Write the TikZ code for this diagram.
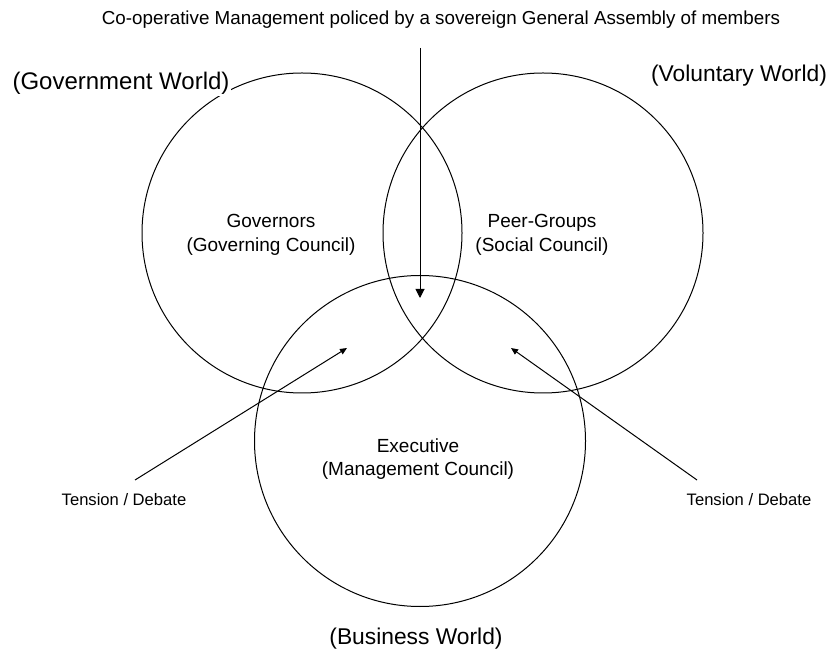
\documentclass[tikz,border=0pt]{standalone}
\usepackage{fontspec}
\setmainfont{Liberation Sans}
\usetikzlibrary{arrows.meta, positioning}
\tikzset{%
	world circle/.style={
		circle,
		draw,
		line width=0.5pt
	},
	world label/.style={
		fill=white,
		inner sep=1pt,
		font=\fontsize{11.4}{13.5}\selectfont
	},
	council label/.style={
		align=center,
		inner sep=0pt,
		font=\fontsize{9.5}{11.75}\selectfont
	},
	tension label/.style={
		inner sep=0pt,
		font=\fontsize{8.3}{10}\selectfont
	},
}

\begin{document}
\begin{tikzpicture}[x=0.5pt, y=-0.5pt, line width=0.5pt]
			\useasboundingbox (0,0) rectangle (829,651);
			
			% Draw the three circles
			\node[world circle, minimum size=160pt] (gov) at (302,233) {};
			\node[world circle, minimum size=160pt] (vol) at (543,233) {};
			\node[world circle, minimum size=165.5pt] (bus) at (420,441) {};
			
			% World names
			\node[world label, font=\fontsize{12}{14}\selectfont] (govname) at (121,83) {(Government World)};
			\node[world label] (volname) at (739,76) {(Voluntary World)};
			\node[world label] (busname) at (416,639) {(Business World)};
			
			% Councils
			\node[council label] (governors) at (271,235) {Governors\\(Governing Council)};
			\node[council label] (peers) at (542,235) {Peer-Groups\\(Social Council)};
			\node[council label] (executive) at (418,459) {Executive\\(Management Council)};
			
			% Assembly arrow from the top
			\node[inner sep=0pt, font=\fontsize{9.4}{11}\selectfont] (assembly) at (441,20)
				{Co-operative Management policed by a sovereign General Assembly of members};
			\coordinate (assemblyfoot) at (420,48);
			\coordinate (assemblyhead) at (420,298);
			\draw[-{Triangle[length=4.5pt, width=4.5pt]}] (assemblyfoot) -- (assemblyhead);
			
			% Tension arrows
			\node[tension label] (tensionl) at (124,500) {Tension / Debate};
			\node[tension label] (tensionr) at (749,500) {Tension / Debate};
			\coordinate (tlfoot) at (135,480);
			\coordinate (tlhead) at (347,348);
			\coordinate (trfoot) at (697,480);
			\coordinate (trhead) at (511,348);
			\draw[-{Triangle[length=3.5pt, width=3pt]}] (tlfoot) -- (tlhead);
			\draw[-{Triangle[length=3.5pt, width=3pt]}] (trfoot) -- (trhead);
			
		\end{tikzpicture}
\end{document}
